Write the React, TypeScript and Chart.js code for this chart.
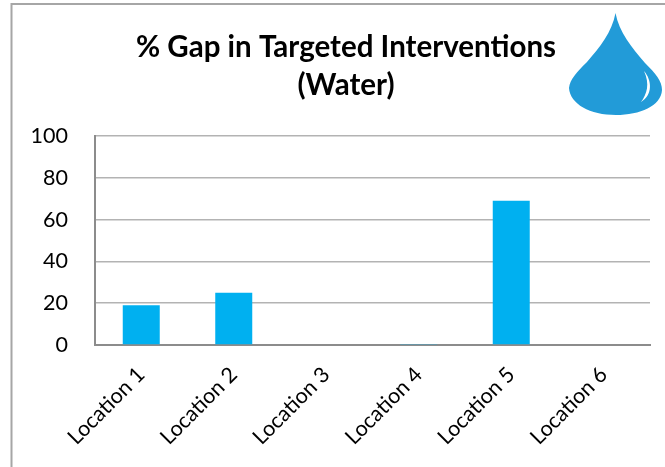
import React, { useEffect, useRef } from "react";
import { Chart, registerables } from "chart.js";

Chart.register(...registerables);

const categories = ["Location 1", "Location 2", "Location 3", "Location 4", "Location 5", "Location 6"];
const gapValues = [19, 25, 0, 0.5, 69, 0];
const titleLines = ["% Gap in Targeted Interventions", "(Water)"];
const FONT = "Lato, 'Open Sans', sans-serif";

const decorations = {
  id: "decorations",
  beforeDraw(chart: any) {
    const c = chart.ctx;
    c.save();
    c.fillStyle = "#ffffff";
    c.fillRect(0, 0, 665, 467);
    c.strokeStyle = "#a6a6a6";
    c.lineWidth = 2;
    c.beginPath();
    c.moveTo(11.5, 467);
    c.lineTo(11.5, 4);
    c.lineTo(665, 4);
    c.stroke();
    c.restore();
  },
  afterDraw(chart: any) {
    const c = chart.ctx;
    c.save();
    c.fillStyle = "#229bd8";
    c.beginPath();
    c.moveTo(615.5, 13);
    c.bezierCurveTo(619, 32, 632, 48, 645, 63);
    c.bezierCurveTo(656, 74, 662, 81, 662, 90);
    c.bezierCurveTo(661, 106, 640, 115, 616, 115);
    c.bezierCurveTo(590, 115, 570, 104, 569, 88);
    c.bezierCurveTo(570, 79, 577, 72, 587, 62);
    c.bezierCurveTo(600, 47, 612, 32, 615.5, 13);
    c.closePath();
    c.fill();
    c.fillStyle = "#ffffff";
    c.beginPath();
    c.moveTo(644, 71);
    c.bezierCurveTo(652, 80, 653, 95, 641, 102);
    c.bezierCurveTo(647, 94, 650, 84, 644, 71);
    c.closePath();
    c.fill();
    c.restore();
  },
};

export default function App() {
  const ref = useRef<HTMLCanvasElement>(null);
  useEffect(() => {
    document.body.style.margin = "0";
    const chart = new Chart(ref.current as HTMLCanvasElement, {
      type: "bar",
      plugins: [decorations],
      data: {
        labels: categories,
        datasets: [
          {
            data: gapValues,
            backgroundColor: "#00b0f0",
            barPercentage: 0.4,
            categoryPercentage: 1,
          },
        ],
      },
      options: {
        animation: false,
        responsive: false,
        layout: { padding: { left: 27, right: 0, top: 0, bottom: 0 } },
        plugins: {
          legend: { display: false },
          tooltip: { enabled: false },
          title: {
            display: true,
            text: titleLines,
            color: "#000000",
            font: { family: FONT, size: 29.5, weight: "bold", lineHeight: 1.29 },
            padding: { top: 28, bottom: 32 },
          },
        },
        scales: {
          x: {
            grid: { display: false },
            border: { color: "#8c8c8c", width: 2 },
            ticks: {
              color: "#000000",
              font: { family: FONT, size: 21.5 },
              minRotation: 45,
              maxRotation: 45,
              padding: 9,
            },
            afterFit(s: any) {
              s.height = 122;
            },
          },
          y: {
            min: 0,
            max: 100,
            grid: { color: "#b3b3b3", lineWidth: 1.5, drawTicks: false },
            border: { color: "#8c8c8c", width: 2 },
            ticks: {
              stepSize: 20,
              color: "#000000",
              font: { family: FONT, size: 21.5 },
              padding: 27,
            },
            afterFit(s: any) {
              s.width = 68;
            },
          },
          rightGap: {
            position: "right",
            grid: { display: false },
            border: { display: false },
            ticks: { display: false },
            afterFit(s: any) {
              s.width = 15;
            },
          },
        },
      } as any,
    });
    return () => chart.destroy();
  }, []);
  return <canvas ref={ref} width={665} height={467} style={{ display: "block" }} />;
}
